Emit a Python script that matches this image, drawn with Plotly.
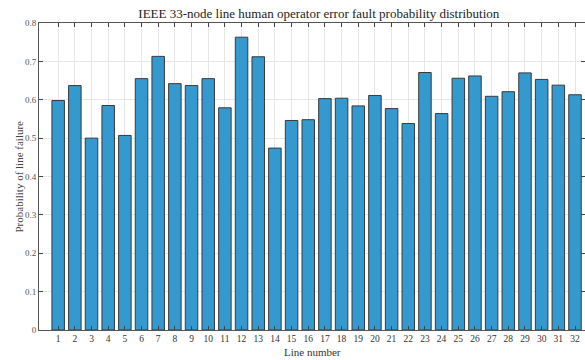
import plotly.graph_objects as go

line_numbers = list(range(1, 33))
failure_prob = [0.598, 0.637, 0.500, 0.585, 0.507, 0.655, 0.713, 0.642, 0.637, 0.655,
                0.579, 0.763, 0.712, 0.474, 0.546, 0.548, 0.603, 0.604, 0.584, 0.611,
                0.577, 0.538, 0.671, 0.564, 0.656, 0.662, 0.609, 0.621, 0.670, 0.653,
                0.638, 0.613]
y_ticks = [0, 0.1, 0.2, 0.3, 0.4, 0.5, 0.6, 0.7, 0.8]

fig = go.Figure(go.Bar(
    x=line_numbers, y=failure_prob,
    marker=dict(color="#3399CF", line=dict(color="#3a3a3a", width=1)),
    width=0.75,
))

font = "Liberation Serif, Times New Roman, serif"
fig.update_layout(
    width=585, height=360,
    margin=dict(l=39, r=0, t=23, b=30, autoexpand=False),
    paper_bgcolor="white", plot_bgcolor="white",
    showlegend=False,
    font=dict(family=font, color="#333333"),
    title=dict(text="IEEE 33-node line human operator error fault probability distribution",
               x=0.545, xanchor="center", y=0.963, yanchor="middle",
               font=dict(size=13, family=font, color="#222222")),
    annotations=[
        dict(text="Line number", xref="paper", yref="paper", x=0.5, y=0,
             xanchor="center", yanchor="top", yshift=-14, showarrow=False,
             font=dict(size=11, family=font, color="#333333")),
        dict(text="Probability of line failure", xref="paper", yref="paper", x=0, y=0.5,
             xanchor="center", yanchor="middle", xshift=-21, textangle=-90, showarrow=False,
             font=dict(size=11, family=font, color="#444444")),
    ],
)
fig.update_xaxes(
    range=[-0.15, 32.6], tickmode="array", tickvals=line_numbers,
    ticktext=[str(v) for v in line_numbers], automargin=False,
    ticks="inside", ticklen=4, tickcolor="#444444", tickwidth=1,
    showline=True, linecolor="#555555", linewidth=1, mirror="ticks",
    showgrid=True, gridcolor="#e6e6e6", gridwidth=1, zeroline=False,
    tickfont=dict(size=9.5, family=font, color="#333333"),
)
fig.update_yaxes(
    range=[0, 0.8], tickmode="array", tickvals=y_ticks, automargin=False,
    ticktext=["0", "0.1", "0.2", "0.3", "0.4", "0.5", "0.6", "0.7", "0.8"],
    ticks="inside", ticklen=4, tickcolor="#444444", tickwidth=1,
    showline=True, linecolor="#555555", linewidth=1, mirror="ticks",
    showgrid=True, gridcolor="#e6e6e6", gridwidth=1, zeroline=False,
    tickfont=dict(size=9, family=font, color="#555555"),
)

fig.write_html("out.html", config={"displayModeBar": False},
               post_script="document.body.style.margin='0';")
